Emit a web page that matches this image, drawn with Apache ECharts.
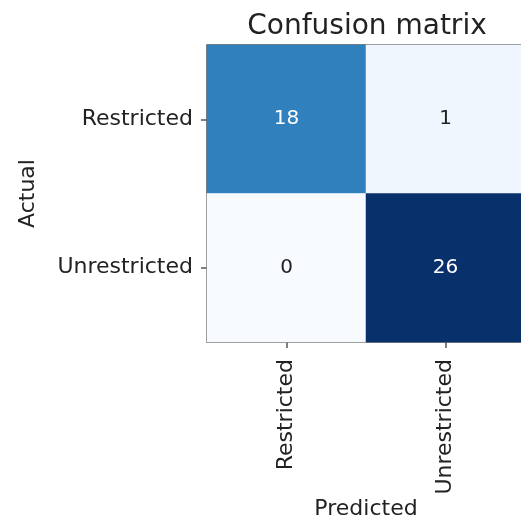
<!DOCTYPE html>
<html>
<head>
<meta charset="utf-8">
<style>
  html, body { margin: 0; padding: 0; background: #ffffff; }
  #chart { width: 521px; height: 515px; }
</style>
<script src="https://cdn.jsdelivr.net/npm/echarts@6/dist/echarts.min.js"></script>
</head>
<body>
<div id="chart"></div>
<script>
// Class labels for both axes
const predictedLabels = ['Restricted', 'Unrestricted'];
const actualLabels = ['Restricted', 'Unrestricted'];
// Counts: rows = actual class, columns = predicted class
const counts = [
  [18, 1],
  [0, 26]
];

// "Blues" colour ramp
const blues = ['#f7fbff', '#deebf7', '#c6dbef', '#9ecae1', '#6baed6',
               '#4292c6', '#2171b5', '#08519c', '#08306b'];

const maxCount = Math.max(...counts.flat());
const cells = [];
counts.forEach((row, r) => {
  row.forEach((v, c) => {
    cells.push({
      value: [c, r, v],
      label: { color: v > maxCount / 2 ? '#ffffff' : '#222222' }
    });
  });
});

const font = 'DejaVu Sans';
const chart = echarts.init(document.getElementById('chart'), null, { renderer: 'canvas' });
chart.setOption({
  animation: false,
  backgroundColor: '#ffffff',
  title: {
    text: 'Confusion matrix',
    left: 362,
    top: 8,
    textAlign: 'center',
    textStyle: { fontFamily: font, fontSize: 28, fontWeight: 'normal', color: '#222222' }
  },
  grid: {
    left: 207,
    top: 45,
    width: 318,
    height: 297,
    outerBoundsMode: 'none',
    containLabel: false,
    show: true,
    borderColor: '#555555',
    borderWidth: 1.5,
    backgroundColor: 'transparent'
  },
  visualMap: {
    show: false,
    type: 'continuous',
    min: 0,
    max: maxCount,
    dimension: 2,
    inRange: { color: blues }
  },
  xAxis: {
    type: 'category',
    data: predictedLabels,
    position: 'bottom',
    name: 'Predicted',
    nameLocation: 'middle',
    nameGap: 156,
    nameMoveOverlap: false,
    nameTextStyle: { fontFamily: font, fontSize: 22, color: '#222222' },
    axisLine: { show: false },
    axisTick: { show: true, alignWithLabel: true, length: 6, lineStyle: { color: '#555555', width: 1.5 } },
    axisLabel: { rotate: 90, fontFamily: font, fontSize: 22, color: '#222222', margin: 17 },
    splitLine: { show: false }
  },
  yAxis: {
    type: 'category',
    data: actualLabels,
    inverse: true,
    name: 'Actual',
    nameLocation: 'middle',
    nameGap: 168,
    nameMoveOverlap: false,
    nameTextStyle: { fontFamily: font, fontSize: 22, color: '#222222' },
    axisLine: { show: false },
    axisTick: { show: true, alignWithLabel: true, length: 6, lineStyle: { color: '#555555', width: 1.5 } },
    axisLabel: { fontFamily: font, fontSize: 22, color: '#222222', margin: 14 },
    splitLine: { show: false }
  },
  series: [{
    type: 'heatmap',
    data: cells,
    label: {
      show: true,
      formatter: p => String(p.value[2]),
      fontFamily: font,
      fontSize: 20
    },
    itemStyle: { borderWidth: 0 },
    emphasis: { disabled: true }
  }]
});
</script>
</body>
</html>
